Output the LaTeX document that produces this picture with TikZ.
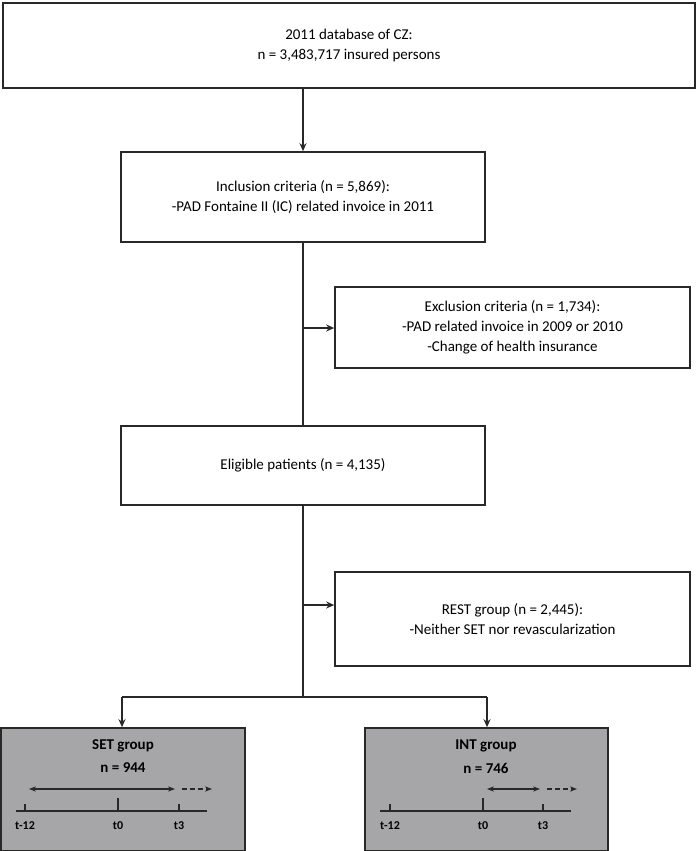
\documentclass[tikz,border=0pt]{standalone}
\usepackage{fontspec}
\setmainfont{Carlito}
\usetikzlibrary{arrows.meta,positioning}
\definecolor{cline}{RGB}{40,40,40}
\definecolor{cgroup}{RGB}{166,166,169}
\tikzset{
  box/.style={draw=cline,line width=1.6pt,fill=white,align=center,font=\fontsize{15}{20}\selectfont,inner sep=0pt},
  grp/.style={box,fill=cgroup},
  flow/.style={draw=cline,line width=1.4pt,-{Stealth[length=8pt,width=7pt]}},
  tl/.style={draw=cline,line width=1.4pt},
  lbl/.style={font=\bfseries\fontsize{15}{18}\selectfont,inner sep=0pt},
  tick/.style={font=\bfseries\fontsize{12}{14}\selectfont,inner sep=0pt}
}
\begin{document}
\begin{tikzpicture}[x=1pt,y=-1pt]
\useasboundingbox (0,0) rectangle (699,851);
%
\node[box,minimum width=692pt,minimum height=85pt] (db) at (349,45.5)
  {2011 database of CZ:\\n = 3,483,717 insured persons};
\node[box,minimum width=364pt,minimum height=90pt] (inc) at (303,197)
  {Inclusion criteria (n = 5,869):\\-PAD Fontaine II (IC) related invoice in 2011};
\node[box,minimum width=355pt,minimum height=81pt] (exc) at (512.5,327.5)
  {Exclusion criteria (n = 1,734):\\-PAD related invoice in 2009 or 2010\\-Change of health insurance};
\node[box,minimum width=364pt,minimum height=79pt] (elig) at (303,465.5)
  {Eligible patients (n = 4,135)};
\node[box,minimum width=355pt,minimum height=94pt] (rest) at (512.5,619)
  {REST group (n = 2,445):\\-Neither SET nor revascularization};
\node[grp,minimum width=244pt,minimum height=123pt] (set) at (123,789.5) {};
\node[grp,minimum width=243pt,minimum height=123pt] (int) at (486.5,789.5) {};
%
\coordinate (a0) at (303,88);
\coordinate (a1) at (303,328);
\coordinate (a2) at (303,605);
\coordinate (a3) at (303,697);
\coordinate (sl) at (122,697);
\coordinate (sr) at (487,697);
\draw[flow] (a0) -- (inc.north -| a0);
\draw[tl] (inc.south) -- (elig.north);
\draw[flow] (a1) -- (exc.west |- a1);
\draw[tl] (elig.south) -- (a3);
\draw[flow] (a2) -- (rest.west |- a2);
\draw[tl] (sl) -- (sr);
\draw[flow] (sl) -- (sl |- set.north);
\draw[flow] (sr) -- (sr |- int.north);
%
% SET group
\node[lbl] (sett) at (123,746) {SET group};
\node[lbl] (setn) at (123,768) {n = 944};
\draw[tl,{Stealth[length=7pt]}-{Stealth[length=7pt]}] (29,789) -- (175,789);
\draw[tl,dashed,dash pattern=on 5pt off 3pt,-{Stealth[length=7pt]}] (182,789) -- (212,789);
\draw[tl] (16,811) -- (207,811);
\draw[tl] (25,811) -- (25,804) (118,811) -- (118,798) (179,811) -- (179,804);
\node[tick] (s1) at (25,826) {t-12};
\node[tick] (s2) at (118,826) {t0};
\node[tick] (s3) at (179,826) {t3};
%
% INT group
\node[lbl] (intt) at (486,746) {INT group};
\node[lbl] (intn) at (486,768) {n = 746};
\draw[tl,{Stealth[length=7pt]}-{Stealth[length=7pt]}] (487,789) -- (540,789);
\draw[tl,dashed,dash pattern=on 5pt off 3pt,-{Stealth[length=7pt]}] (547,789) -- (577,789);
\draw[tl] (380,811) -- (571,811);
\draw[tl] (390,811) -- (390,804) (483,811) -- (483,798) (543,811) -- (543,804);
\node[tick] (i1) at (390,826) {t-12};
\node[tick] (i2) at (483,826) {t0};
\node[tick] (i3) at (543,826) {t3};
\end{tikzpicture}
\end{document}
